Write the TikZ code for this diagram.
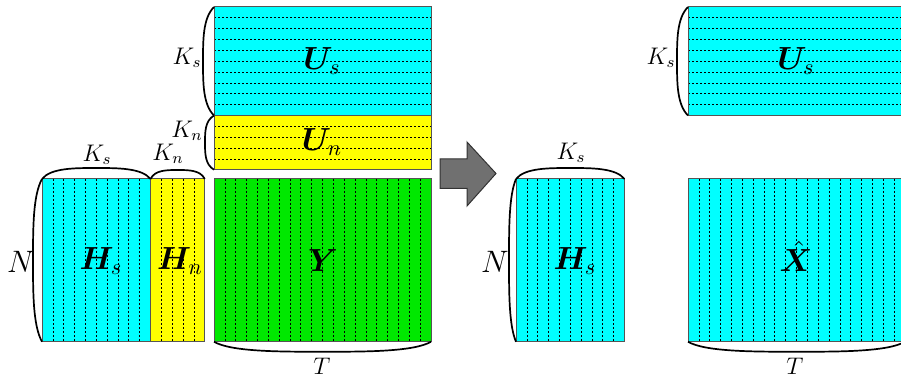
\documentclass[tikz,border=0pt]{standalone}
\usepackage{fix-cm}
\usepackage{amsmath}
\usepackage{bm}
\definecolor{mcyan}{RGB}{0,255,255}
\definecolor{myellow}{RGB}{255,255,0}
\definecolor{mgreen}{RGB}{0,232,0}
\definecolor{mborder}{RGB}{85,85,85}
\definecolor{marrowfill}{RGB}{112,112,112}
\definecolor{marrowline}{RGB}{50,50,50}
\newcommand\BrV[4]{%
  \pgfmathsetmacro\bL{#3-#2}%
  \draw[bracestyle] (#1,#2) .. controls ({#1-(#4)},{#2+0.1*\bL}) and ({#1-(#4)},{#2+0.3*\bL}) .. ({#1-(#4)},{#2+0.5*\bL})
    .. controls ({#1-(#4)},{#3-0.3*\bL}) and ({#1-(#4)},{#3-0.1*\bL}) .. (#1,#3);}
\newcommand\BrH[4]{%
  \pgfmathsetmacro\bL{#2-#1}%
  \draw[bracestyle] (#1,#3) .. controls ({#1+0.08*\bL},{#3+(#4)}) and ({#1+0.3*\bL},{#3+(#4)}) .. ({#1+0.5*\bL},{#3+(#4)})
    .. controls ({#2-0.3*\bL},{#3+(#4)}) and ({#2-0.08*\bL},{#3+(#4)}) .. (#2,#3);}
\begin{document}
\begin{tikzpicture}[x=0.5pt,y=-0.5pt,
  matbox/.style={draw=mborder,line width=0.5pt},
  dl/.style={black,line width=0.35pt,dash pattern=on 1pt off 1pt},
  bracestyle/.style={black,line width=0.85pt},
  lbl/.style={inner sep=0pt,font=\fontsize{12}{14}\selectfont},
  nlbl/.style={inner sep=0pt,font=\fontsize{15.5}{18}\selectfont},
  biglbl/.style={inner sep=0pt,font=\fontsize{16}{19}\selectfont},
  blockarrow/.style={fill=marrowfill,draw=marrowline,line width=0.5pt}]
\clip (0,0) rectangle (901,379);
\def\uu{10.85}
% ---------- U_s (left) ----------
\fill[mcyan] (214,7) rectangle (431,115.5);
\foreach \k in {1,...,9} \draw[dl] (214,{7+\k*\uu}) -- (431,{7+\k*\uu});
\draw[matbox] (214,7) rectangle (431,115.5);
% ---------- U_n ----------
\fill[myellow] (214,115.5) rectangle (431,169.75);
\foreach \k in {1,...,4} \draw[dl] (214,{115.5+\k*\uu}) -- (431,{115.5+\k*\uu});
\draw[matbox] (214,115.5) rectangle (431,169.75);
% ---------- H_s ----------
\fill[mcyan] (42,179) rectangle (150.5,341.75);
\foreach \k in {1,...,9} \draw[dl] ({42+\k*\uu},179) -- ({42+\k*\uu},341.75);
\draw[matbox] (42,179) rectangle (150.5,341.75);
% ---------- H_n ----------
\fill[myellow] (150.5,179) rectangle (204.75,341.75);
\foreach \k in {1,...,4} \draw[dl] ({150.5+\k*\uu},179) -- ({150.5+\k*\uu},341.75);
\draw[matbox] (150.5,179) rectangle (204.75,341.75);
% ---------- Y ----------
\fill[mgreen] (214,179) rectangle (431,341.75);
\foreach \k in {1,...,19} \draw[dl] ({214+\k*\uu},179) -- ({214+\k*\uu},341.75);
\draw[matbox] (214,179) rectangle (431,341.75);
% ---------- arrow ----------
\draw[blockarrow] (440,159) -- (467,159) -- (467,142) -- (496,173.5) -- (467,206) -- (467,188.5) -- (440,188.5) -- cycle;
% ---------- H_s (right) ----------
\fill[mcyan] (516,179) rectangle (624.5,341.75);
\foreach \k in {1,...,9} \draw[dl] ({516+\k*\uu},179) -- ({516+\k*\uu},341.75);
\draw[matbox] (516,179) rectangle (624.5,341.75);
% ---------- U_s (right) ----------
\fill[mcyan] (688,7) rectangle (905,115.5);
\foreach \k in {1,...,9} \draw[dl] (688,{7+\k*\uu}) -- (905,{7+\k*\uu});
\draw[matbox] (688,7) rectangle (905,115.5);
% ---------- X hat ----------
\fill[mcyan] (688,179) rectangle (905,341.75);
\foreach \k in {1,...,19} \draw[dl] ({688+\k*\uu},179) -- ({688+\k*\uu},341.75);
\draw[matbox] (688,179) rectangle (905,341.75);
% ---------- braces ----------
\BrV{214}{7}{115.5}{11}
\BrV{214}{115.5}{169.75}{9}
\BrV{42}{179}{341.75}{9}
\BrV{516}{179}{341.75}{7}
\BrV{688}{7}{115.5}{11}
\BrH{42}{150.5}{179}{-11}
\BrH{150.5}{204.75}{179}{-9}
\BrH{516}{624.5}{179}{-11}
\BrH{214}{431}{341.75}{10}
\BrH{688}{905}{341.75}{10}
% ---------- matrix labels ----------
\node[biglbl] (lUs) at (322,61) {$\bm{U}_s$};
\node[biglbl] (lUn) at (322,142) {$\bm{U}_n$};
\node[biglbl] (lHs) at (101,261) {$\bm{H}_s$};
\node[biglbl] (lHn) at (180,261) {$\bm{H}_n$};
\node[biglbl] (lY) at (323,261) {$\bm{Y}$};
\node[biglbl] (lHs2) at (575,261) {$\bm{H}_s$};
\node[biglbl] (lUs2) at (796,61) {$\bm{U}_s$};
\node[biglbl] (lX) at (796,256) {$\hat{\bm{X}}$};
% ---------- brace labels ----------
\node[lbl] (kUs) at (187,58) {$K_s$};
\node[lbl] (kUn) at (187,131) {$K_n$};
\node[lbl] (kHs) at (97,155) {$K_s$};
\node[lbl] (kHn) at (168,154) {$K_n$};
\node[nlbl] (nL) at (21,262) {$N$};
\node[lbl] (tL) at (322,366) {$T$};
\node[lbl] (kHs2) at (571,153) {$K_s$};
\node[nlbl] (nR) at (495,262) {$N$};
\node[lbl] (kUs2) at (661,58) {$K_s$};
\node[lbl] (tR) at (795,366) {$T$};
\end{tikzpicture}
\end{document}
